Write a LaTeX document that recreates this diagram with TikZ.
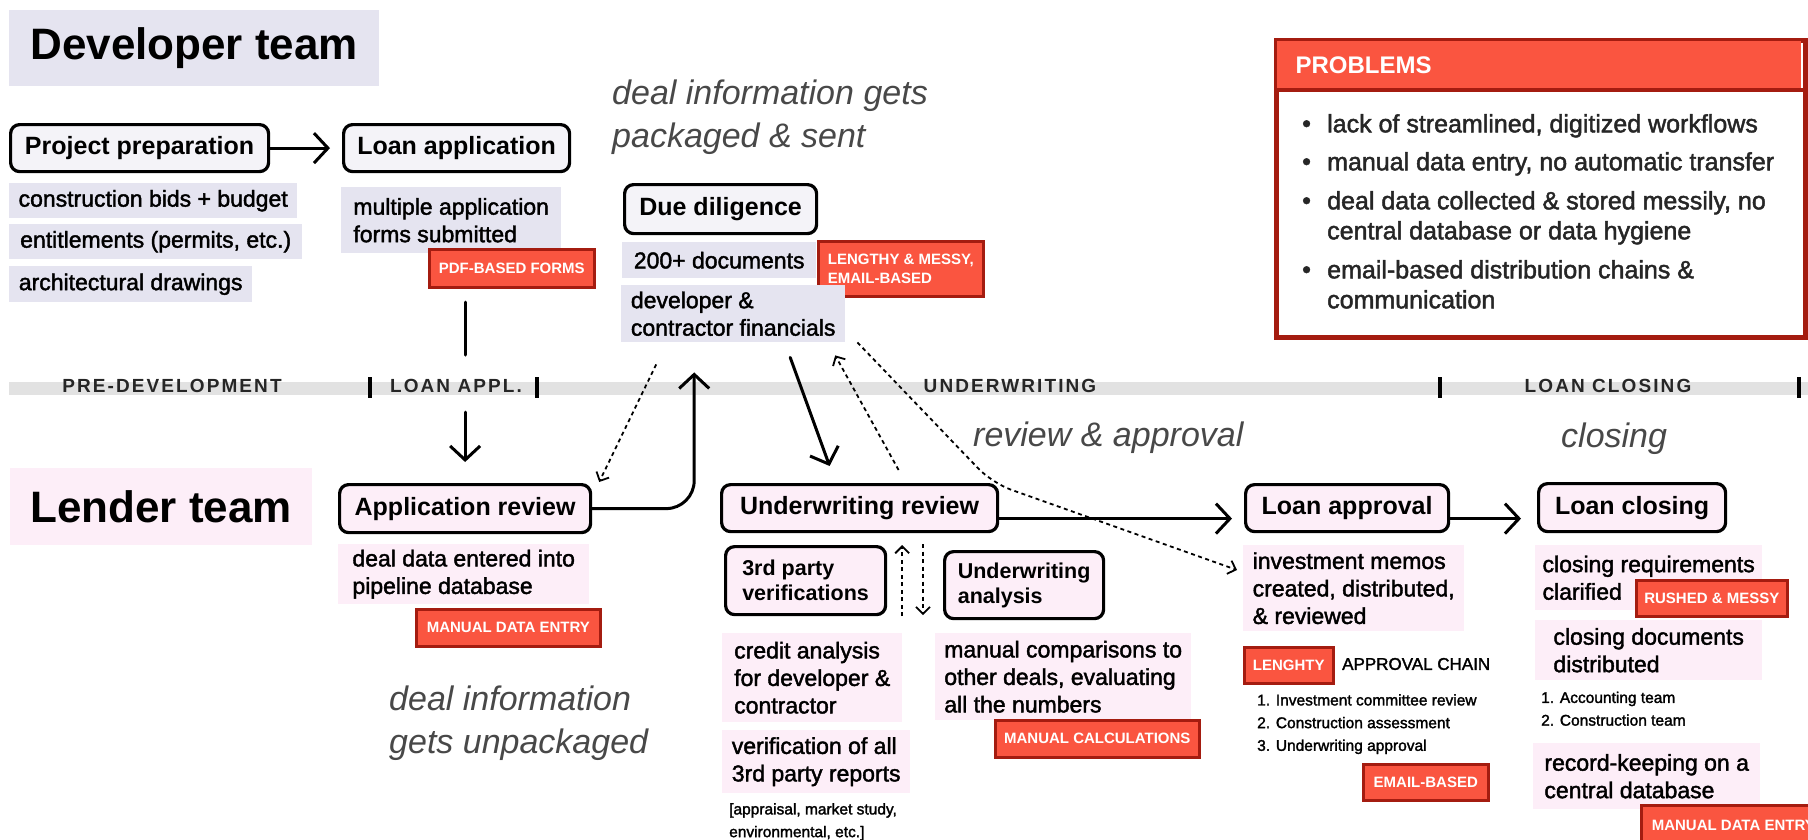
\documentclass[tikz,border=0pt]{standalone}
\usepackage{fontspec}
\setmainfont{Liberation Sans}
\newfontfamily\medfam{Liberation Sans}[FakeBold=1.8]
\newfontfamily\trackfam{Liberation Sans}[LetterSpace=11]
\usetikzlibrary{arrows.meta}
\definecolor{devfill}{HTML}{E5E4F0}
\definecolor{devstep}{HTML}{F4F3F8}
\definecolor{lenfill}{HTML}{FDEEF8}
\definecolor{lenstep}{HTML}{FDEEF8}
\definecolor{tagred}{HTML}{FA5540}
\definecolor{tagdark}{HTML}{A41C10}
\definecolor{bandgray}{HTML}{E2E2E2}
\definecolor{italgray}{HTML}{484848}
\newcommand\fHead{\fontsize{44}{50}\selectfont\bfseries}
\newcommand\fTitle{\fontsize{25}{30}\selectfont\bfseries}
\newcommand\fSub{\fontsize{21.5}{25}\selectfont\bfseries}
\newcommand\fBody{\medfam\fontsize{23}{27.5}\selectfont}
\newcommand\fSmall{\medfam\fontsize{15.5}{22.7}\selectfont}
\newcommand\fTag{\fontsize{15}{19}\selectfont\bfseries}
\newcommand\fItal{\fontsize{34}{42.5}\selectfont\itshape}
\newcommand\fPhase{\trackfam\fontsize{19}{21}\selectfont\bfseries}
\newcommand\fProb{\medfam\fontsize{25}{30}\selectfont}
\tikzset{
 stepbox/.style={draw=black, line width=3.2pt, rounded corners=9pt, anchor=north west, inner sep=0pt, font=\fTitle},
 devstepbox/.style={stepbox, fill=devstep},
 lenstepbox/.style={stepbox, fill=lenstep},
 subbox/.style={stepbox, fill=lenstep, font=\fSub, align=left},
 item/.style={anchor=north west, inner sep=0pt, align=left, font=\fBody},
 devitem/.style={item, fill=devfill},
 lenitem/.style={item, fill=lenfill},
 teambox/.style={anchor=north west, inner sep=0pt, font=\fHead},
 tagbox/.style={anchor=north west, fill=tagred, draw=tagdark, line width=2.6pt, text=white, font=\fTag, inner sep=0pt, align=left},
 italtext/.style={anchor=north west, inner sep=0pt, font=\fItal, text=italgray, align=left},
 phaselabel/.style={inner sep=0pt, font=\fPhase, text=black!85},
 smalltext/.style={anchor=north west, inner sep=0pt, font=\fSmall, align=left},
 probtext/.style={anchor=north west, inner sep=0pt, font=\fProb, text=black!85, align=left},
 bul/.style={anchor=base west, inner sep=0pt, font=\fProb, text=black!85},
 flow/.style={line width=3pt, line cap=round, line join=round, -{Straight Barb[length=14pt,width=30pt]}},
 plainflow/.style={line width=3pt, line cap=round},
 dflow/.style={line width=1.8pt, dash pattern=on 4pt off 3.5pt, -{Straight Barb[length=7pt,width=14pt]}},
}
\begin{document}
\begin{tikzpicture}[x=1pt,y=-1pt]
\useasboundingbox (0,0) rectangle (1808,839);
\fill[white] (0,0) rectangle (1808,839);

% timeline band
\fill[bandgray] (9,382) rectangle (1808,395);
\foreach \tx in {370,537,1440,1799} \fill[black] (\tx-2,377) rectangle (\tx+2,398);
\node[phaselabel] (ph1) at (172,386) {PRE-DEVELOPMENT};
\node[phaselabel] (ph2) at (456,386) {LOAN APPL.};
\node[phaselabel] (ph3) at (1010,386) {UNDERWRITING};
\node[phaselabel] (ph4) at (1608,386) {LOAN CLOSING};

% developer team
\node[teambox, fill=devfill, minimum width=370pt, minimum height=76pt] (devteam) at (9,10) {Developer team};
\node[devstepbox, minimum width=258pt, minimum height=47pt] (pp) at (9,123) {Project preparation};
\node[devstepbox, minimum width=226pt, minimum height=47pt] (la) at (342,123) {Loan application};
\node[devitem, minimum width=288pt, minimum height=35pt] (d1) at (9,183) {construction bids + budget};
\node[devitem, minimum width=293pt, minimum height=35pt] (d2) at (9,224) {entitlements (permits, etc.)};
\node[devitem, minimum width=243pt, minimum height=36pt] (d3) at (9,266) {architectural drawings};
\node[devitem, minimum width=220pt, minimum height=66pt] (d4) at (341,187) {multiple application\\forms submitted};
\node[tagbox, minimum width=165pt, minimum height=38pt] (t1) at (428,248) {PDF-BASED FORMS};

\node[italtext] (it1) at (612,80) {deal information gets\\packaged \& sent};
\node[devstepbox, minimum width=192pt, minimum height=49pt] (dd) at (623,183) {Due diligence};
\node[devitem, minimum width=194pt, minimum height=36pt] (doc) at (622,242) {200+ documents};
\node[tagbox, minimum width=165pt, minimum height=55pt] (t2) at (817,240) {LENGTHY \& MESSY,\\EMAIL-BASED};
\node[devitem, minimum width=224pt, minimum height=57pt] (fin) at (621,285) {developer \&\\contractor financials};

% problems
\node[anchor=north west, draw=tagdark, line width=4.5pt, fill=white, minimum width=529pt, minimum height=297pt, inner sep=0pt] (prob) at (1274,38) {};
\node[anchor=north west, fill=tagred, minimum width=524.5pt, minimum height=49.7pt, inner xsep=19pt, inner ysep=0pt, text width=486.5pt, align=left, text=white, font=\fontsize{24}{28}\selectfont\bfseries] (probhead) at (1276.3,40.3) {PROBLEMS};
\draw[tagdark, line width=4pt] (prob.west |- probhead.south) -- (prob.east |- probhead.south);
\node[bul] (b1) at (1302,132) {\textbullet};
\node[bul] (b2) at (1302,170) {\textbullet};
\node[bul] (b3) at (1302,209) {\textbullet};
\node[bul] (b4) at (1302,278) {\textbullet};
\node[probtext] (p1) at (1327,114) {lack of streamlined, digitized workflows};
\node[probtext] (p2) at (1327,152) {manual data entry, no automatic transfer};
\node[probtext] (p3) at (1327,191) {deal data collected \& stored messily, no\\central database or data hygiene};
\node[probtext] (p4) at (1327,260) {email-based distribution chains \&\\communication};

% lender team
\node[teambox, fill=lenfill, minimum width=302pt, minimum height=77pt] (lenteam) at (10,468) {Lender team};
\node[lenstepbox, minimum width=251pt, minimum height=48pt] (ar) at (338,483) {Application review};
\node[lenitem, minimum width=251pt, minimum height=60pt] (l1) at (338,544) {deal data entered into\\pipeline database};
\node[tagbox, minimum width=184pt, minimum height=37pt] (t3) at (415,608) {MANUAL DATA ENTRY};
\node[italtext] (it2) at (389,686) {deal information\\gets unpackaged};

\node[lenstepbox, minimum width=276pt, minimum height=47pt] (ur) at (720,483) {Underwriting review};
\node[subbox, minimum width=160pt, minimum height=68pt] (tpv) at (724,545) {3rd party\\verifications};
\node[subbox, minimum width=159pt, minimum height=67pt] (ua) at (943,550) {Underwriting\\analysis};
\node[lenitem, minimum width=180pt, minimum height=89pt] (l2) at (722,633) {credit analysis\\for developer \&\\contractor};
\node[lenitem, minimum width=188pt, minimum height=63pt] (l3) at (722,730) {verification of all\\3rd party reports};
\node[smalltext] (s1) at (729,803) {[appraisal, market study,\\environmental, etc.]};
\node[lenitem, minimum width=256pt, minimum height=87pt] (l4) at (935,633) {manual comparisons to\\other deals, evaluating\\all the numbers};
\node[tagbox, minimum width=204pt, minimum height=37pt] (t4) at (994,719) {MANUAL CALCULATIONS};
\node[italtext, anchor=base west] (it3) at (973,446) {review \& approval};

\node[lenstepbox, minimum width=203pt, minimum height=47pt] (lapp) at (1244,483) {Loan approval};
\node[lenitem, minimum width=221pt, minimum height=86pt] (memo) at (1243,545) {investment memos\\created, distributed,\\\& reviewed};
\node[tagbox, minimum width=89pt, minimum height=36pt] (t5) at (1243,646) {LENGHTY};
\node[anchor=west, inner sep=0pt, font=\medfam\fontsize{17}{20}\selectfont] (chain) at (1342,664) {APPROVAL CHAIN};
\node[smalltext] (s2) at (1257,694) {1. Investment committee review\\2. Construction assessment\\3. Underwriting approval};
\node[tagbox, minimum width=125pt, minimum height=36pt] (t6) at (1362,763) {EMAIL-BASED};

\node[italtext, anchor=base west] (it4) at (1561,447) {closing};
\node[lenstepbox, minimum width=187pt, minimum height=48pt] (lc) at (1537,482) {Loan closing};
\node[lenitem, minimum width=227pt, minimum height=65pt] (c1) at (1535,545) {closing requirements\\clarified};
\node[tagbox, minimum width=151pt, minimum height=36pt] (t7) at (1635,579) {RUSHED \& MESSY};
\node[lenitem, minimum width=227pt, minimum height=60pt] (c2) at (1535,620) {closing documents\\distributed};
\node[smalltext] (s3) at (1541,691.5) {1. Accounting team\\2. Construction team};
\node[lenitem, minimum width=227pt, minimum height=66pt] (c3) at (1533,743) {record-keeping on a\\central database};
\node[tagbox, minimum width=184pt, minimum height=40pt] (t8) at (1640,804) {MANUAL DATA ENTRY};

% connectors
\draw[flow, shorten >=12pt] (pp.east) -- (la.west);
\draw[plainflow] ([yshift=181pt]ar.north) -- ([yshift=128pt]ar.north);
\draw[flow] ([yshift=71pt]ar.north) -- ([yshift=21pt]ar.north);
\draw[flow, rounded corners=28pt] (ar.east) -| ([xshift=-39pt,yshift=-30pt]fin.south);
\draw[dflow] ([xshift=-77pt,yshift=-22pt]fin.south) -- ([xshift=7pt,yshift=1pt]ar.north east);
\draw[flow] ([xshift=57pt,yshift=-15pt]fin.south) -- ([xshift=-30pt,yshift=17pt]ur.north);
\draw[dflow] ([xshift=39pt,yshift=13pt]ur.north) -- ([xshift=102pt,yshift=-13pt]fin.south);
\draw[dflow, rounded corners=20pt] ([xshift=12pt]fin.south east) -- ([xshift=-7pt]ur.north east) -- ([xshift=-6pt,yshift=-25pt]memo.north west);
\draw[flow, shorten >=12pt] ([yshift=-10.5pt]ur.east) -- ([yshift=-10.5pt]lapp.west);
\draw[flow, shorten >=16pt] ([yshift=-10.5pt]lapp.east) -- ([yshift=-11pt]lc.west);
\draw[dflow] ([xshift=15pt]tpv.south east) -- ([xshift=15pt]tpv.north east);
\draw[dflow] ([xshift=-20pt,yshift=6pt]ua.north west) -- ([xshift=-20pt,yshift=5pt]ua.south west);
\end{tikzpicture}
\end{document}
